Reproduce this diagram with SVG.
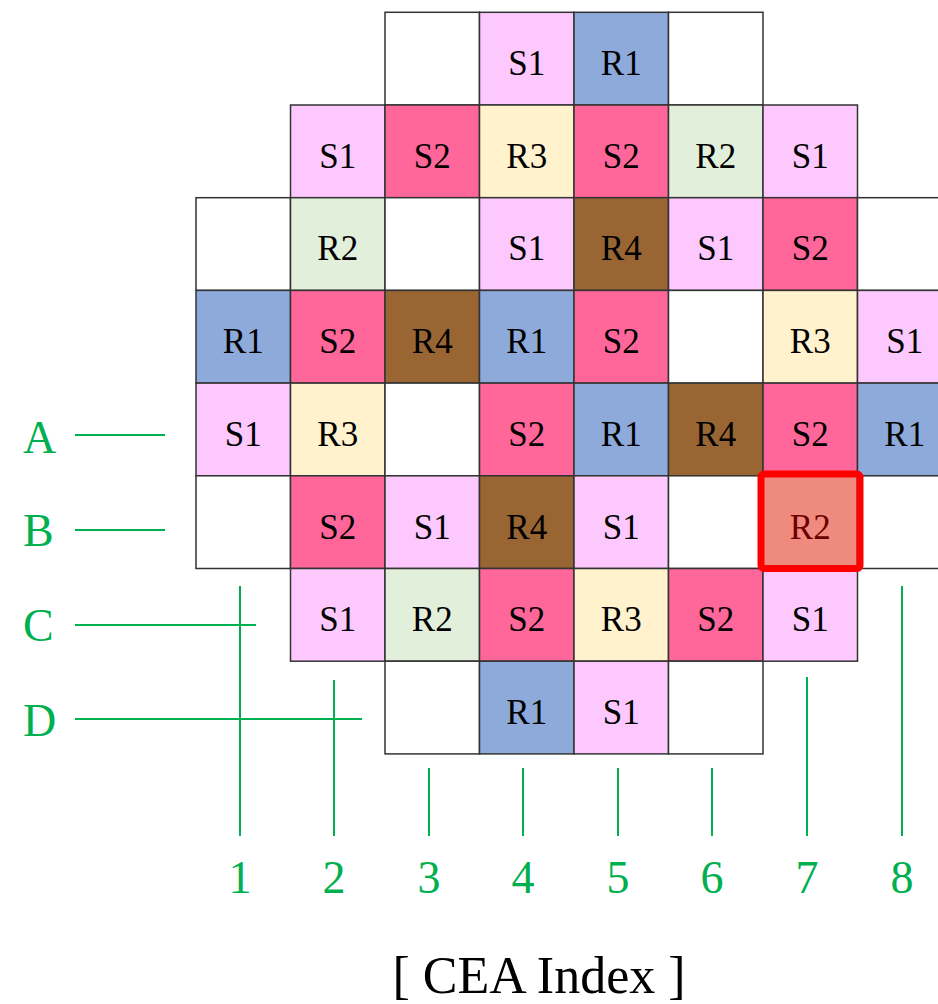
<svg xmlns="http://www.w3.org/2000/svg" width="938" height="1004" viewBox="0 0 938 1004">
<style>
  .cell rect { stroke: #333; stroke-width: 1.5; }
  .cell text { font-size: 35px; text-anchor: middle; fill: #000; }
  .e { fill: #ffffff; }
  .s1 { fill: #fdc8fd; }
  .s2 { fill: #ff6699; }
  .r1 { fill: #8eaadb; }
  .r2 { fill: #e2efda; }
  .r3 { fill: #fff2cc; }
  .r4 { fill: #996633; }
  .axis line { stroke: #00b050; stroke-width: 2; }
  .lbl { font-size: 46px; fill: #00b050; }
  .num { font-size: 46px; fill: #00b050; text-anchor: middle; }
</style>

<g font-family="Liberation Serif, Times New Roman, serif">
<!-- core map: 8 columns x 8 rows of 94.5 x 92.7 cells -->
<g id="row1">
  <g id="c1-3" class="cell"><rect class="e" x="385" y="12.3" width="94.5" height="92.7"/></g>
  <g id="c1-4" class="cell"><rect class="s1" x="479.5" y="12.3" width="94.5" height="92.7"/><text x="526.75" y="75">S1</text></g>
  <g id="c1-5" class="cell"><rect class="r1" x="574" y="12.3" width="94.5" height="92.7"/><text x="621.25" y="75">R1</text></g>
  <g id="c1-6" class="cell"><rect class="e" x="668.5" y="12.3" width="94.5" height="92.7"/></g>
</g>
<g id="row2">
  <g id="c2-2" class="cell"><rect class="s1" x="290.5" y="105" width="94.5" height="92.7"/><text x="337.75" y="167.7">S1</text></g>
  <g id="c2-3" class="cell"><rect class="s2" x="385" y="105" width="94.5" height="92.7"/><text x="432.25" y="167.7">S2</text></g>
  <g id="c2-4" class="cell"><rect class="r3" x="479.5" y="105" width="94.5" height="92.7"/><text x="526.75" y="167.7">R3</text></g>
  <g id="c2-5" class="cell"><rect class="s2" x="574" y="105" width="94.5" height="92.7"/><text x="621.25" y="167.7">S2</text></g>
  <g id="c2-6" class="cell"><rect class="r2" x="668.5" y="105" width="94.5" height="92.7"/><text x="715.75" y="167.7">R2</text></g>
  <g id="c2-7" class="cell"><rect class="s1" x="763" y="105" width="94.5" height="92.7"/><text x="810.25" y="167.7">S1</text></g>
</g>
<g id="row3">
  <g id="c3-1" class="cell"><rect class="e" x="196" y="197.7" width="94.5" height="92.7"/></g>
  <g id="c3-2" class="cell"><rect class="r2" x="290.5" y="197.7" width="94.5" height="92.7"/><text x="337.75" y="260.4">R2</text></g>
  <g id="c3-3" class="cell"><rect class="e" x="385" y="197.7" width="94.5" height="92.7"/></g>
  <g id="c3-4" class="cell"><rect class="s1" x="479.5" y="197.7" width="94.5" height="92.7"/><text x="526.75" y="260.4">S1</text></g>
  <g id="c3-5" class="cell"><rect class="r4" x="574" y="197.7" width="94.5" height="92.7"/><text x="621.25" y="260.4">R4</text></g>
  <g id="c3-6" class="cell"><rect class="s1" x="668.5" y="197.7" width="94.5" height="92.7"/><text x="715.75" y="260.4">S1</text></g>
  <g id="c3-7" class="cell"><rect class="s2" x="763" y="197.7" width="94.5" height="92.7"/><text x="810.25" y="260.4">S2</text></g>
  <g id="c3-8" class="cell"><rect class="e" x="857.5" y="197.7" width="94.5" height="92.7"/></g>
</g>
<g id="row4">
  <g id="c4-1" class="cell"><rect class="r1" x="196" y="290.4" width="94.5" height="92.7"/><text x="243.25" y="353.1">R1</text></g>
  <g id="c4-2" class="cell"><rect class="s2" x="290.5" y="290.4" width="94.5" height="92.7"/><text x="337.75" y="353.1">S2</text></g>
  <g id="c4-3" class="cell"><rect class="r4" x="385" y="290.4" width="94.5" height="92.7"/><text x="432.25" y="353.1">R4</text></g>
  <g id="c4-4" class="cell"><rect class="r1" x="479.5" y="290.4" width="94.5" height="92.7"/><text x="526.75" y="353.1">R1</text></g>
  <g id="c4-5" class="cell"><rect class="s2" x="574" y="290.4" width="94.5" height="92.7"/><text x="621.25" y="353.1">S2</text></g>
  <g id="c4-6" class="cell"><rect class="e" x="668.5" y="290.4" width="94.5" height="92.7"/></g>
  <g id="c4-7" class="cell"><rect class="r3" x="763" y="290.4" width="94.5" height="92.7"/><text x="810.25" y="353.1">R3</text></g>
  <g id="c4-8" class="cell"><rect class="s1" x="857.5" y="290.4" width="94.5" height="92.7"/><text x="904.75" y="353.1">S1</text></g>
</g>
<g id="row5">
  <g id="c5-1" class="cell"><rect class="s1" x="196" y="383.1" width="94.5" height="92.7"/><text x="243.25" y="445.8">S1</text></g>
  <g id="c5-2" class="cell"><rect class="r3" x="290.5" y="383.1" width="94.5" height="92.7"/><text x="337.75" y="445.8">R3</text></g>
  <g id="c5-3" class="cell"><rect class="e" x="385" y="383.1" width="94.5" height="92.7"/></g>
  <g id="c5-4" class="cell"><rect class="s2" x="479.5" y="383.1" width="94.5" height="92.7"/><text x="526.75" y="445.8">S2</text></g>
  <g id="c5-5" class="cell"><rect class="r1" x="574" y="383.1" width="94.5" height="92.7"/><text x="621.25" y="445.8">R1</text></g>
  <g id="c5-6" class="cell"><rect class="r4" x="668.5" y="383.1" width="94.5" height="92.7"/><text x="715.75" y="445.8">R4</text></g>
  <g id="c5-7" class="cell"><rect class="s2" x="763" y="383.1" width="94.5" height="92.7"/><text x="810.25" y="445.8">S2</text></g>
  <g id="c5-8" class="cell"><rect class="r1" x="857.5" y="383.1" width="94.5" height="92.7"/><text x="904.75" y="445.8">R1</text></g>
</g>
<g id="row6">
  <g id="c6-1" class="cell"><rect class="e" x="196" y="475.8" width="94.5" height="92.7"/></g>
  <g id="c6-2" class="cell"><rect class="s2" x="290.5" y="475.8" width="94.5" height="92.7"/><text x="337.75" y="538.5">S2</text></g>
  <g id="c6-3" class="cell"><rect class="s1" x="385" y="475.8" width="94.5" height="92.7"/><text x="432.25" y="538.5">S1</text></g>
  <g id="c6-4" class="cell"><rect class="r4" x="479.5" y="475.8" width="94.5" height="92.7"/><text x="526.75" y="538.5">R4</text></g>
  <g id="c6-5" class="cell"><rect class="s1" x="574" y="475.8" width="94.5" height="92.7"/><text x="621.25" y="538.5">S1</text></g>
  <g id="c6-6" class="cell"><rect class="e" x="668.5" y="475.8" width="94.5" height="92.7"/></g>
  <g id="c6-7" class="cell"><rect class="r2" x="763" y="475.8" width="94.5" height="92.7"/><text x="810.25" y="538.5">R2</text></g>
  <g id="c6-8" class="cell"><rect class="e" x="857.5" y="475.8" width="94.5" height="92.7"/></g>
</g>
<g id="row7">
  <g id="c7-2" class="cell"><rect class="s1" x="290.5" y="568.5" width="94.5" height="92.7"/><text x="337.75" y="631.2">S1</text></g>
  <g id="c7-3" class="cell"><rect class="r2" x="385" y="568.5" width="94.5" height="92.7"/><text x="432.25" y="631.2">R2</text></g>
  <g id="c7-4" class="cell"><rect class="s2" x="479.5" y="568.5" width="94.5" height="92.7"/><text x="526.75" y="631.2">S2</text></g>
  <g id="c7-5" class="cell"><rect class="r3" x="574" y="568.5" width="94.5" height="92.7"/><text x="621.25" y="631.2">R3</text></g>
  <g id="c7-6" class="cell"><rect class="s2" x="668.5" y="568.5" width="94.5" height="92.7"/><text x="715.75" y="631.2">S2</text></g>
  <g id="c7-7" class="cell"><rect class="s1" x="763" y="568.5" width="94.5" height="92.7"/><text x="810.25" y="631.2">S1</text></g>
</g>
<g id="row8">
  <g id="c8-3" class="cell"><rect class="e" x="385" y="661.2" width="94.5" height="92.7"/></g>
  <g id="c8-4" class="cell"><rect class="r1" x="479.5" y="661.2" width="94.5" height="92.7"/><text x="526.75" y="723.9">R1</text></g>
  <g id="c8-5" class="cell"><rect class="s1" x="574" y="661.2" width="94.5" height="92.7"/><text x="621.25" y="723.9">S1</text></g>
  <g id="c8-6" class="cell"><rect class="e" x="668.5" y="661.2" width="94.5" height="92.7"/></g>
</g>

<!-- selected assembly highlight -->
<g id="highlight">
  <rect x="761" y="474" width="99" height="94.5" rx="3" fill="#ff0000" fill-opacity="0.42" stroke="#ff0000" stroke-width="7"/>
</g>

<!-- CEA group guide lines -->
<g id="connectors" class="axis">
  <line x1="75" y1="435" x2="165" y2="435"/>
  <line x1="75" y1="530" x2="165" y2="530"/>
  <line x1="75" y1="625" x2="256" y2="625"/>
  <line x1="75" y1="719" x2="362" y2="719"/>
  <line x1="240" y1="586" x2="240" y2="836"/>
  <line x1="334" y1="680" x2="334" y2="836"/>
  <line x1="429" y1="768" x2="429" y2="836"/>
  <line x1="523" y1="768" x2="523" y2="836"/>
  <line x1="618" y1="768" x2="618" y2="836"/>
  <line x1="712" y1="768" x2="712" y2="836"/>
  <line x1="807" y1="677" x2="807" y2="836"/>
  <line x1="902" y1="586" x2="902" y2="836"/>
</g>

<g id="row-labels">
  <text class="lbl" x="23" y="453">A</text>
  <text class="lbl" x="23" y="546">B</text>
  <text class="lbl" x="23" y="641">C</text>
  <text class="lbl" x="23" y="736">D</text>
</g>
<g id="col-labels">
  <text class="num" x="240" y="893">1</text>
  <text class="num" x="334" y="893">2</text>
  <text class="num" x="429" y="893">3</text>
  <text class="num" x="523" y="893">4</text>
  <text class="num" x="618" y="893">5</text>
  <text class="num" x="712" y="893">6</text>
  <text class="num" x="807" y="893">7</text>
  <text class="num" x="902" y="893">8</text>
</g>

<text id="title" x="539" y="993" font-size="52" text-anchor="middle" fill="#000">[ CEA Index ]</text>
</g>
</svg>
